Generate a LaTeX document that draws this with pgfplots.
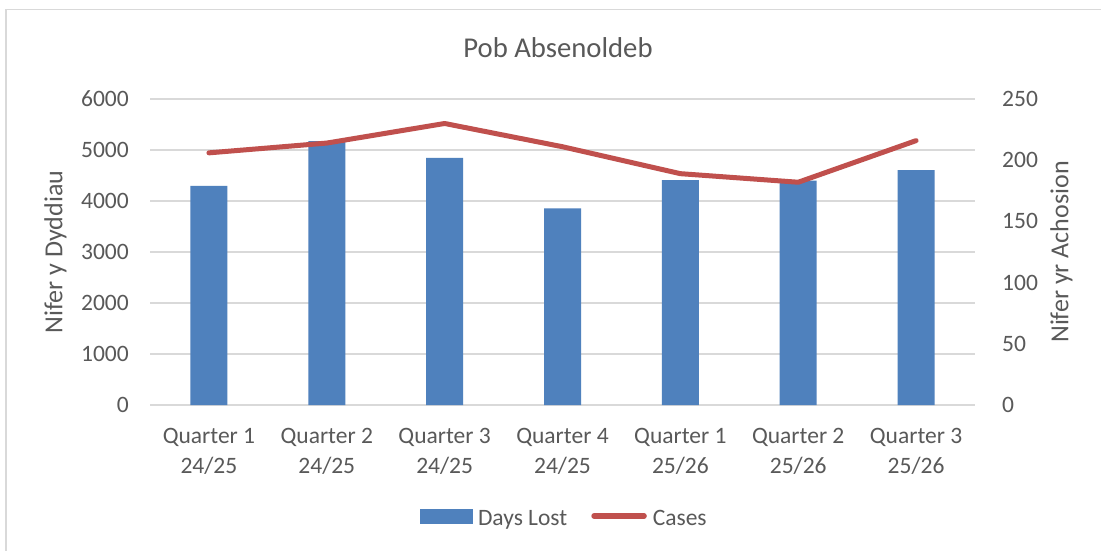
\documentclass[border=0pt]{standalone}
\usepackage{pgfplots}
\pgfplotsset{compat=1.18}
\usepackage{fontspec}
\setmainfont{Carlito}
\definecolor{barblue}{HTML}{4F81BD}
\definecolor{linered}{HTML}{C0504D}
\definecolor{txt}{HTML}{595959}
\definecolor{gridc}{HTML}{D9D9D9}
\newcommand{\tickfont}{\fontsize{23.5bp}{30bp}\selectfont}
\newcommand{\labfont}{\fontsize{26bp}{30bp}\selectfont}
\newcommand{\titfont}{\fontsize{28.7bp}{34bp}\selectfont}
\pgfplotstableread{
x days cases
0 4295 206
1 5175 214
2 4845 230
3 3855 211
4 4410 189
5 4400 182
6 4605 216
}\datatable
\begin{document}
\begin{tikzpicture}[x=1bp,y=1bp]
\useasboundingbox (0,0) rectangle (1101,-551);
\fill[white] (0,0) rectangle (1101,-551);
\draw[gridc, line width=1.6bp] (6,-551) -- (6,-9.6) -- (1101,-9.6);
\begin{axis}[
  at={(150bp,-405bp)}, anchor=south west,
  scale only axis, width=825bp, height=306bp,
  xmin=-0.5, xmax=6.5, ymin=0, ymax=6000,
  axis line style={draw=none},
  major tick length=0pt,
  ymajorgrids, grid style={gridc, line width=1.3bp},
  ytick={0,1000,...,6000},
  xtick={0,...,6},
  xticklabels={{Quarter 1\\24/25},{Quarter 2\\24/25},{Quarter 3\\24/25},{Quarter 4\\24/25},{Quarter 1\\25/26},{Quarter 2\\25/26},{Quarter 3\\25/26}},
  xticklabel style={font=\tickfont, text=txt, align=center, anchor=north, inner sep=0pt, yshift=-23bp},
  yticklabel style={font=\tickfont, text=txt, anchor=east, inner sep=0pt, xshift=-21bp},
  /pgf/number format/.cd, 1000 sep={}, assume math mode=true,
]
\addplot[ybar, bar width=37bp, fill=barblue, draw=none] table[x=x, y=days] {\datatable};
\end{axis}
\begin{axis}[
  at={(150bp,-405bp)}, anchor=south west,
  scale only axis, width=825bp, height=306bp,
  xmin=-0.5, xmax=6.5, ymin=0, ymax=250,
  axis line style={draw=none},
  major tick length=0pt,
  xtick=\empty,
  ytick={0,50,...,250},
  yticklabel pos=right,
  yticklabel style={font=\tickfont, text=txt, anchor=west, inner sep=0pt, xshift=27bp},
  legend style={at={(0.502,-0.3725)}, anchor=center, draw=none, fill=none, font=\tickfont, text=txt,
    legend columns=2, column sep=4bp, /tikz/every even column/.append style={column sep=22bp}},
  /pgf/number format/.cd, 1000 sep={}, assume math mode=true,
]
\addlegendimage{legend image code/.code={\fill[barblue] (0bp,-4bp) rectangle (52bp,10bp);}}
\addlegendentry{Days Lost}
\addplot[linered, line width=5bp, line cap=round, line join=round,
  legend image code/.code={\draw[linered, line width=5.5bp, line cap=round] (3bp,3bp) -- (53bp,3bp);}]
  table[x=x, y=cases] {\datatable};
\addlegendentry{Cases}
\end{axis}
\node[font=\titfont, text=txt, anchor=base] at (558,-58) {Pob Absenoldeb};
\node[font=\labfont, text=txt, anchor=base, rotate=90] at (62.3,-252) {Nifer y Dyddiau};
\node[font=\labfont, text=txt, anchor=base, rotate=90] at (1068.4,-252) {Nifer yr Achosion};
\end{tikzpicture}
\end{document}
